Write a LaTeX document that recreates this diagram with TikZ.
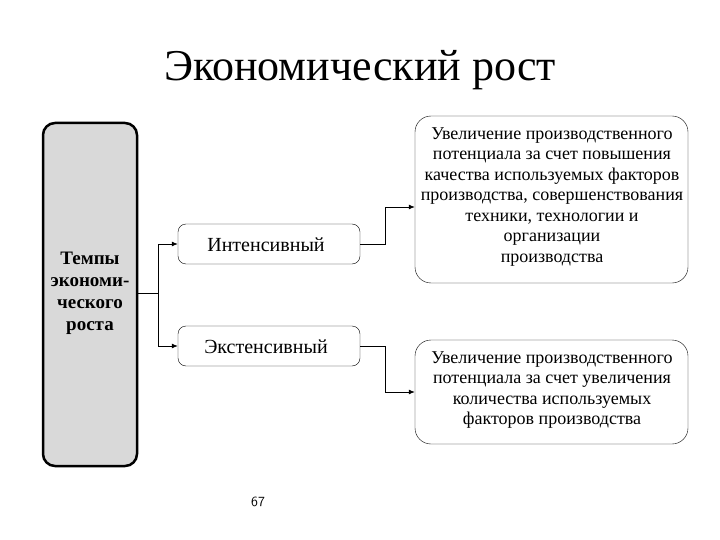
\documentclass[tikz,border=0pt]{standalone}
\usepackage{fontspec}
\setmainfont{Liberation Serif}
\usetikzlibrary{arrows.meta}
\begin{document}
\begin{tikzpicture}[x=1pt,y=-1pt,
  box/.style={draw,rounded corners=8pt,inner sep=0pt,thin},
  big/.style={draw,rounded corners=16pt,inner sep=2pt,thin,align=center},
  conn/.style={thick},
  arr/.style={thick,-{Latex[length=6pt,width=5pt]}}]
\useasboundingbox (0,0) rectangle (720,540);
\node (title) at (360,70) {\fontsize{44}{46}\selectfont Экономический рост};
\node[draw,line width=2.5pt,fill=gray!30,rounded corners=12pt,minimum width=94pt,minimum height=343pt,inner sep=0pt] (L) at (90,294.5) {};
\node[align=center,font=\bfseries\fontsize{19}{22}\selectfont] (Lt) at (90,293) {Темпы\\экономи-\\ческого\\роста};
\node[box,minimum width=182pt,minimum height=40pt] (I) at (269,244) {};
\node[font=\fontsize{20}{22}\selectfont] (It) at (266,245) {Интенсивный};
\node[box,minimum width=182pt,minimum height=40pt] (E) at (269,346) {};
\node[font=\fontsize{20}{22}\selectfont] (Et) at (266,347) {Экстенсивный};
\node[big,minimum width=273pt,minimum height=167pt] (R1) at (551.5,199.5) {};
\node[align=center,font=\fontsize{18}{20.5}\selectfont] (R1t) at (552,197) {Увеличение производственного\\потенциала за счет повышения\\качества используемых факторов\\производства, совершенствования\\техники, технологии и\\организации\\производства};
\node[big,minimum width=273pt,minimum height=104pt] (R2) at (551.5,392) {};
\node[align=center,font=\fontsize{18}{20.5}\selectfont] (R2t) at (552,390) {Увеличение производственного\\потенциала за счет увеличения\\количества используемых\\факторов производства};
\node[font=\sffamily\fontsize{14}{16}\selectfont] (pg) at (258,502) {67};
\coordinate (s) at (158,293);
\draw[conn] (L.east |- s) -- (s);
\draw[arr] (s) |- (I.west);
\draw[arr] (s) |- (E.west);
\draw[arr] (I.east) -- (385,244) |- (R1.west |- 0,207);
\draw[arr] (E.east) -- (385,346) |- (R2.west);
\end{tikzpicture}
\end{document}
